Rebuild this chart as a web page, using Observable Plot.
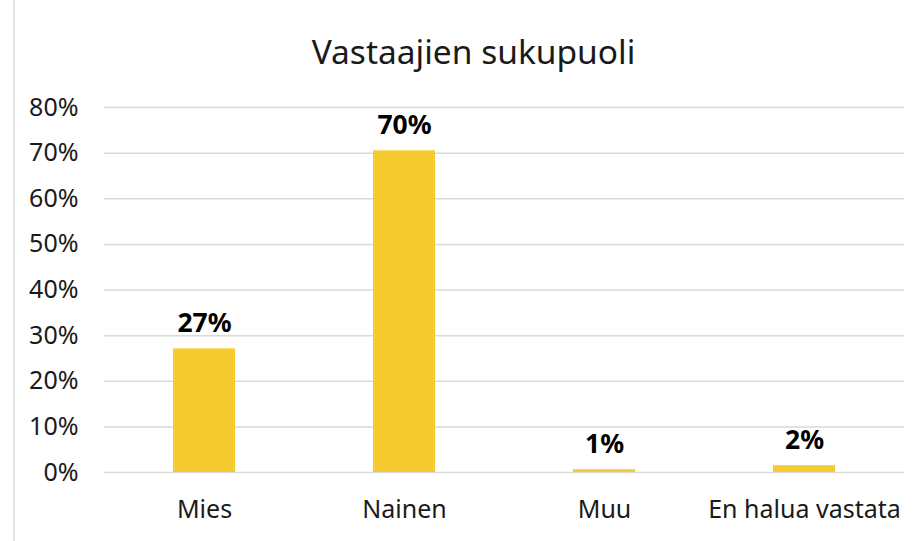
<!DOCTYPE html>
<html>
<head>
<meta charset="utf-8">
<script src="https://cdn.jsdelivr.net/npm/d3@7"></script>
<script src="https://cdn.jsdelivr.net/npm/@observablehq/plot@0.6"></script>
<style>
  html, body { margin: 0; padding: 0; background: #fff; }
  #wrap { position: relative; width: 917px; height: 541px; overflow: hidden; font-family: "Noto Sans", sans-serif; }
  #border { position: absolute; left: 13px; top: 0; width: 2px; height: 541px; background: #e3e3e3; }
  #title { height: 90px; width: 917px; text-align: center; font-size: 33.5px; color: #1a1a1a; line-height: 1; box-sizing: border-box; padding-top: 35px; padding-left: 30px; }
</style>
</head>
<body>
<div id="wrap">
  <div id="border"></div>
  <div id="title">Vastaajien sukupuoli</div>
  <div id="chart"></div>
</div>
<script>
const categories = ["Mies", "Nainen", "Muu", "En halua vastata"];
const shares = [0.271, 0.705, 0.006, 0.015];
const labels = ["27%", "70%", "1%", "2%"];
const yTicks = [0, 0.1, 0.2, 0.3, 0.4, 0.5, 0.6, 0.7, 0.8];

const data = categories.map((c, i) => ({category: c, value: shares[i], label: labels[i]}));

const chart = Plot.plot({
  width: 917,
  height: 451,
  marginTop: 17,
  marginBottom: 69,
  marginLeft: 104,
  marginRight: 13,
  style: {fontFamily: '"Noto Sans", sans-serif', fontSize: "25px", color: "#1a1a1a", background: "#fff", overflow: "visible"},
  x: {domain: categories, paddingInner: 0.69, paddingOuter: 0.345, label: null},
  y: {domain: [0, 0.8], label: null},
  marks: [
    Plot.gridY(yTicks, {stroke: "#d9d9d9", strokeOpacity: 1, strokeWidth: 1.5}),
    Plot.axisY(yTicks, {tickSize: 0, tickPadding: 26, tickFormat: d => Math.round(d * 100) + "%", fontSize: 25, label: null}),
    Plot.axisX({tickSize: 0, tickPadding: 28, fontSize: 25, label: null}),
    Plot.barY(data, {x: "category", y: "value", fill: "#F5CB30"}),
    Plot.text(data, {x: "category", y: "value", text: "label", lineAnchor: "bottom", dy: -17, fontSize: 26.5, fontWeight: "bold", fill: "#000"})
  ]
});
document.getElementById("chart").appendChild(chart);
</script>
</body>
</html>
